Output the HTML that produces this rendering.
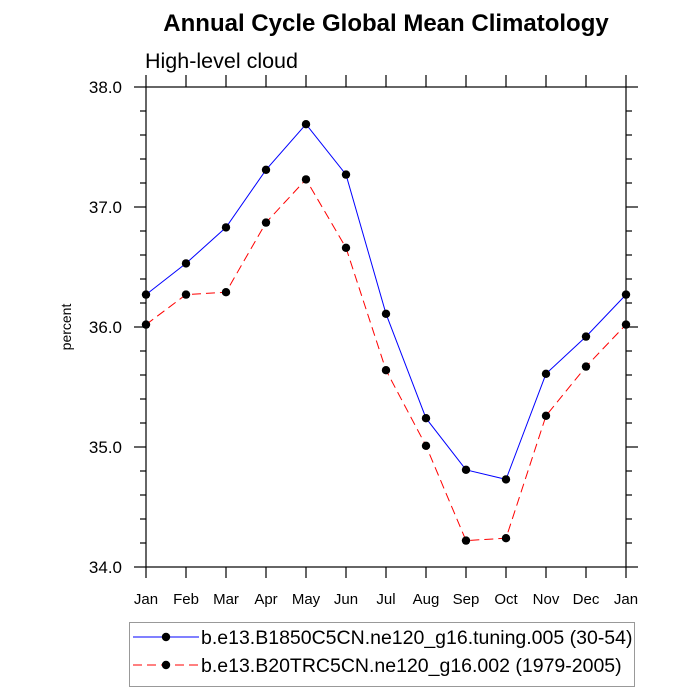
<!DOCTYPE html>
<html><head><meta charset="utf-8"><style>
body{margin:0;background:#fff;}
svg{display:block;font-family:"Liberation Sans",sans-serif;}
</style></head><body>
<svg id="chart" width="700" height="700"></svg>
<script>
const months = ["Jan","Feb","Mar","Apr","May","Jun","Jul","Aug","Sep","Oct","Nov","Dec","Jan"];
const blueValues = [36.27,36.53,36.83,37.31,37.69,37.27,36.11,35.24,34.81,34.73,35.61,35.92,36.27];
const redValues = [36.02,36.27,36.29,36.87,37.23,36.66,35.64,35.01,34.22,34.24,35.26,35.67,36.02];
const yTicks = [34,35,36,37,38];
const yTickLabels = ["34.0","35.0","36.0","37.0","38.0"];
const blueLabel = "b.e13.B1850C5CN.ne120_g16.tuning.005 (30-54)";
const redLabel = "b.e13.B20TRC5CN.ne120_g16.002 (1979-2005)";

const NS="http://www.w3.org/2000/svg";
const svg=document.getElementById('chart');
const L=146,R=626,T=87,B=567,yMin=34,yMax=38;
const xs=i=>L+(R-L)*i/(months.length-1);
const ys=v=>B-(v-yMin)/(yMax-yMin)*(B-T);
function mk(tag,attrs,parent){const e=document.createElementNS(NS,tag);for(const k in attrs)e.setAttribute(k,attrs[k]);(parent||svg).appendChild(e);return e;}
function txt(s,attrs){const e=mk('text',attrs);e.textContent=s;return e;}

let t=txt("Annual Cycle Global Mean Climatology",{x:386,y:31,'font-size':24,'font-weight':'bold','text-anchor':'middle'});


t=txt("High-level cloud",{x:145,y:68,'font-size':21.5});


t=txt("percent",{x:0,y:0,'font-size':14,'text-anchor':'middle',transform:'translate(71,327) rotate(-90)'});



const ax=mk('g',{stroke:'#000','stroke-width':1.2});


mk('rect',{x:L,y:T,width:R-L,height:B-T,fill:'none'},ax);
for(let v=yMin;v<=yMax+1e-9;v+=0.2){
  const y=ys(v);const major=Math.abs(v-Math.round(v))<1e-6;const len=major?12:6;
  mk('line',{x1:L-len,y1:y,x2:L,y2:y},ax);
  mk('line',{x1:R,y1:y,x2:R+len,y2:y},ax);
}
yTicks.forEach((v,i)=>{const e=txt(yTickLabels[i],{x:122,y:ys(v)+6,'font-size':17,'text-anchor':'end'});

});
months.forEach((m,i)=>{const x=xs(i);
  mk('line',{x1:x,y1:B,x2:x,y2:B+11},ax);
  mk('line',{x1:x,y1:T-12,x2:x,y2:T},ax);
  const e=txt(m,{x:x,y:604,'font-size':15,'text-anchor':'middle'});
  
  
});

function series(vals,color,dash,name){
  const g=mk('g',{});
  
  
  mk('polyline',{points:vals.map((v,i)=>xs(i)+','+ys(v)).join(' '),fill:'none',stroke:color,'stroke-width':1,'stroke-dasharray':dash||'none'},g);
  vals.forEach((v,i)=>{const c=mk('circle',{cx:xs(i),cy:ys(v),r:4.2,fill:'#000'},g);
    
    });
}
series(blueValues,'#0000ff',null,'series-b1850');
series(redValues,'#ff0000','9,5','series-b20trc');

const lg=mk('g',{});


mk('rect',{x:129.5,y:622.5,width:505,height:64,fill:'#fff',stroke:'#999','stroke-width':1},lg);
[[blueLabel,'#0000ff',null,637],[redLabel,'#ff0000','9,5',665]].forEach(([lab,col,d,y],i)=>{
  const e=mk('g',{},lg);
  
  
  mk('line',{x1:133,y1:y,x2:199,y2:y,stroke:col,'stroke-width':1,'stroke-dasharray':d||'none'},e);
  mk('circle',{cx:166,cy:y,r:4.2,fill:'#000'},e);
  const tt=mk('text',{x:201,y:y+7,'font-size':19.5},e);tt.textContent=lab;
});
</script>
</body></html>
